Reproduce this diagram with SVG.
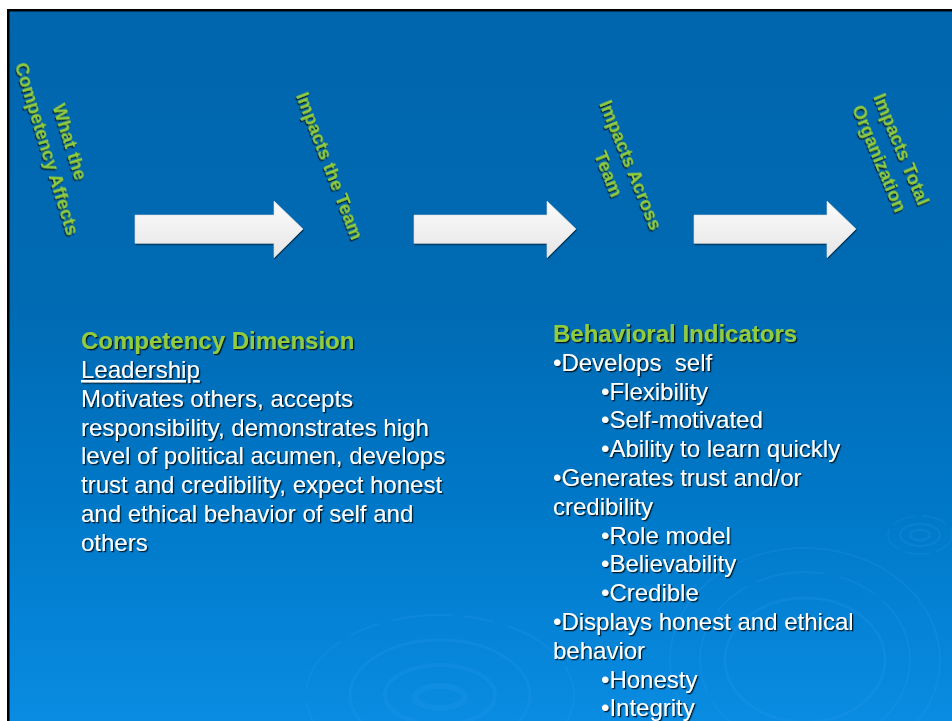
<svg xmlns="http://www.w3.org/2000/svg" width="952" height="721" viewBox="0 0 952 721">
<defs>
<linearGradient id="bg" x1="0" y1="0" x2="0" y2="1">
<stop offset="0" stop-color="#0066ae"/>
<stop offset="0.4" stop-color="#006ab3"/>
<stop offset="0.7" stop-color="#0079c9"/>
<stop offset="1" stop-color="#0a8de3"/>
</linearGradient>
<linearGradient id="arw" x1="0" y1="0" x2="0" y2="1">
<stop offset="0" stop-color="#fbfbfb"/>
<stop offset="1" stop-color="#e6e6e6"/>
</linearGradient>
<filter id="sh" x="-10%" y="-10%" width="120%" height="130%">
<feDropShadow dx="1.3" dy="1.3" stdDeviation="0.3" flood-color="#000" flood-opacity="0.8"/>
</filter>
<filter id="ash" x="-5%" y="-10%" width="110%" height="130%">
<feDropShadow dx="0.5" dy="1.2" stdDeviation="0.4" flood-color="#000" flood-opacity="0.6"/>
</filter>
</defs>
<style>
.lbl{font-family:"Liberation Sans",Arial,sans-serif;font-weight:bold;font-size:18.67px;fill:#92cc3e;text-anchor:middle;filter:url(#sh)}
.hd{font-family:"Liberation Sans",Arial,sans-serif;font-weight:bold;font-size:24px;fill:#92cc3e;filter:url(#sh)}
.bd{font-family:"Liberation Sans",Arial,sans-serif;font-size:24px;fill:#ffffff;filter:url(#sh);white-space:pre}
.arrow{fill:url(#arw);stroke:#d8d8d8;stroke-width:0.6;filter:url(#ash)}
.rip{fill:none;stroke:#3aa0f0;stroke-opacity:0.16}
</style>
<rect x="0" y="0" width="952" height="721" fill="#ffffff"/>
<rect x="7" y="9" width="950" height="720" fill="#000000"/>
<rect x="9.5" y="11.5" width="950" height="720" fill="url(#bg)"/>
<g id="ripples">
<ellipse class="rip" cx="440" cy="697" rx="25" ry="11" stroke-width="6"/>
<ellipse class="rip" cx="440" cy="695" rx="55" ry="30" stroke-width="4"/>
<ellipse class="rip" cx="440" cy="695" rx="90" ry="55" stroke-width="3"/>
<ellipse class="rip" cx="440" cy="695" rx="134" ry="80" stroke-width="2" stroke-dasharray="60 12 30 14"/>
<ellipse class="rip" cx="920" cy="535" rx="10" ry="5" stroke-width="3"/>
<ellipse class="rip" cx="920" cy="535" rx="20" ry="11" stroke-width="2.5"/>
<ellipse class="rip" cx="920" cy="535" rx="32" ry="19" stroke-width="1.5" stroke-dasharray="25 6"/>
<ellipse class="rip" cx="805" cy="660" rx="80" ry="62" stroke-width="3"/>
<ellipse class="rip" cx="805" cy="660" rx="105" ry="88" stroke-width="2" stroke-dasharray="70 15 40 10"/>
<ellipse class="rip" cx="805" cy="660" rx="135" ry="112" stroke-width="2"/>
</g>
<g id="connectors">
<polygon class="arrow" points="135,215 274,215 274,201 303,229 274,257.7 274,243.3 135,243.3"/>
<polygon class="arrow" points="414,215 547,215 547,201 576,229 547,257.7 547,243.3 414,243.3"/>
<polygon class="arrow" points="694,215 827,215 827,201 856,229 827,257.7 827,243.3 694,243.3"/>
</g>
<g id="label-competency-affects" transform="translate(63.8,143.6) rotate(73)">
<text class="lbl" x="0" y="0">What the</text>
<text class="lbl" x="0" y="24">Competency Affects</text>
</g>
<g id="label-impacts-team" transform="translate(323.7,168.1) rotate(69)">
<text class="lbl" x="0" y="0">Impacts the Team</text>
</g>
<g id="label-impacts-across" transform="translate(624.9,167.4) rotate(68)">
<text class="lbl" x="0" y="0">Impacts Across</text>
<text class="lbl" x="0" y="24">Team</text>
</g>
<g id="label-impacts-org" transform="translate(895.7,151.7) rotate(67.5)">
<text class="lbl" x="0" y="0">Impacts Total</text>
<text class="lbl" x="0" y="24">Organization</text>
</g>
<g id="competency-dimension">
<text class="hd" x="81" y="349.3">Competency Dimension</text>
<text class="bd" x="81" y="378" text-decoration="underline">Leadership</text>
<text class="bd" x="81" y="406.8">Motivates others, accepts</text>
<text class="bd" x="81" y="435.6">responsibility, demonstrates high</text>
<text class="bd" x="81" y="464.4">level of political acumen, develops</text>
<text class="bd" x="81" y="493.2">trust and credibility, expect honest</text>
<text class="bd" x="81" y="522">and ethical behavior of self and</text>
<text class="bd" x="81" y="550.8">others</text>
</g>
<g id="behavioral-indicators">
<text class="hd" x="553" y="342">Behavioral Indicators</text>
<text class="bd" x="553" y="370.8">•Develops  self</text>
<text class="bd" x="601" y="399.6">•Flexibility</text>
<text class="bd" x="601" y="428.4">•Self-motivated</text>
<text class="bd" x="601" y="457.2">•Ability to learn quickly</text>
<text class="bd" x="553" y="486">•Generates trust and/or</text>
<text class="bd" x="553" y="514.8">credibility</text>
<text class="bd" x="601" y="543.6">•Role model</text>
<text class="bd" x="601" y="572.4">•Believability</text>
<text class="bd" x="601" y="601.2">•Credible</text>
<text class="bd" x="553" y="630">•Displays honest and ethical</text>
<text class="bd" x="553" y="658.8">behavior</text>
<text class="bd" x="601" y="687.6">•Honesty</text>
<text class="bd" x="601" y="716.4">•Integrity</text>
</g>
</svg>
